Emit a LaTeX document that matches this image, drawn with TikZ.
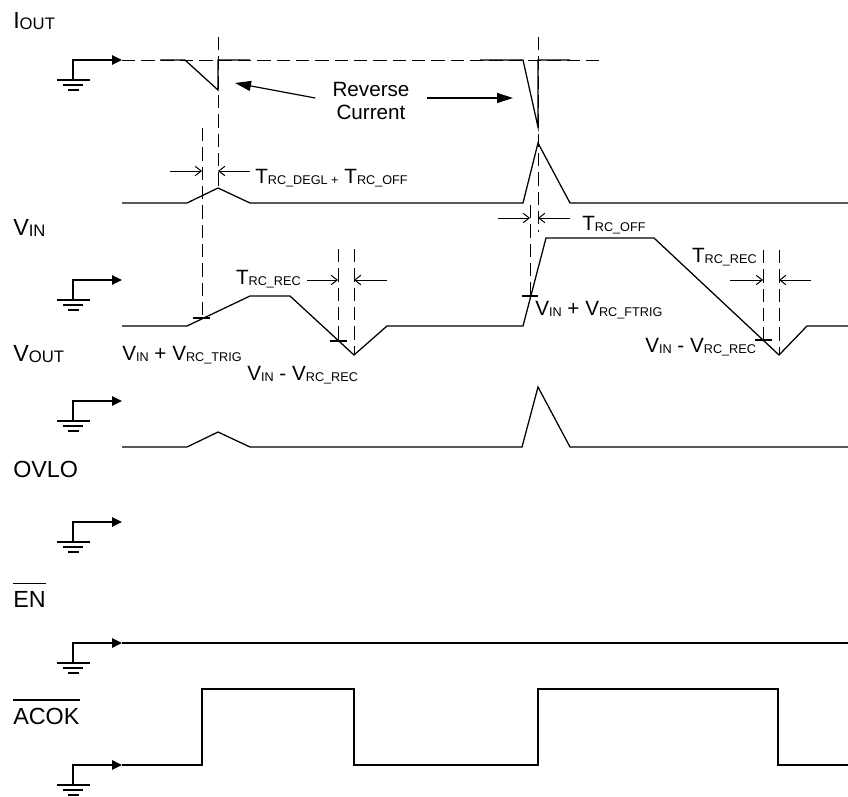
\documentclass[tikz,border=0pt]{standalone}
\usepackage{fontspec}
\setmainfont{Liberation Sans}
\usetikzlibrary{arrows.meta}

\newcommand{\rowsub}[2]{#1{\fontsize{12.5}{12.5}\selectfont\raisebox{-0.8pt}{#2}}}
\newcommand{\annsub}[2]{#1{\fontsize{9.5}{9.5}\selectfont\raisebox{-0.8pt}{#2}}}

\begin{document}
\begin{tikzpicture}[
  x=0.75pt, y=-0.75pt,
  trace/.style={line width=0.95pt, line join=miter},
  gnd/.style={line width=1.4pt},
  gndarrow/.style={line width=1.4pt, -{Triangle[length=7.5pt,width=7pt]}},
  guide/.style={line width=0.75pt, dash pattern=on 10pt off 4.5pt},
  dim/.style={line width=0.75pt, -{Straight Barb[length=4.5pt,width=7pt]}},
  callout/.style={line width=0.9pt, -{Triangle[length=12pt,width=7.5pt]}},
  tick/.style={line width=0.9pt},
  siglabel/.style={anchor=base west, inner sep=0pt, font=\fontsize{17.5}{17.5}\selectfont},
  note/.style={inner sep=0pt, font=\fontsize{15.5}{17.25}\selectfont},
  overbar/.style={line width=1.1pt}
]
\useasboundingbox (0,0) rectangle (848,796);

\def\gx{73}
\def\tx{122}

% Signal names.
\node[siglabel] (iout) at (13,28) {\rowsub{I}{OUT}};
\node[siglabel] (vin) at (13,235) {\rowsub{V}{IN}};
\node[siglabel] (vout) at (13,361) {\rowsub{V}{OUT}};
\node[siglabel] (ovlo) at (13,477) {OVLO};
\node[siglabel] (en) at (13,607) {EN};
\node[siglabel] (acok) at (13,724) {ACOK};
\draw[overbar] ([yshift=5.5pt]en.north west) -- ([yshift=5.5pt]en.north east);
\draw[overbar] ([yshift=5.5pt]acok.north west) -- ([yshift=5.5pt]acok.north east);

% Ground references.
\foreach \gy in {60,280,401,522,643,765}{
  \draw[gndarrow] (\gx,\gy+20) -- (\gx,\gy) -- (\tx,\gy);
  \draw[gnd] (\gx-16,\gy+20) -- (\gx+17,\gy+20);
  \draw[gnd] (\gx-10,\gy+25) -- (\gx+10,\gy+25);
  \draw[gnd] (\gx-5,\gy+30) -- (\gx+6,\gy+30);
}

% Output current with reverse-current dips.
\draw[guide] (\tx,60) -- (603,60);
\draw[trace] (160,60) -- (185,60) -- (218,90) -- (218,60) -- (250,60);
\draw[trace] (480,60) -- (523,60) -- (538,127) -- (538,60) -- (570,60);

\node[note, align=center, inner xsep=12.75pt] (rc) at (371,101) {Reverse\\Current};
\coordinate (dipA) at (235,83);
\coordinate (dipB) at (513,98);
\draw[callout] ([yshift=2.25pt]rc.west) -- (dipA);
\draw[callout] ([yshift=2.25pt]rc.east) -- (dipB);

\draw[trace] (\tx,203) -- (187,203) -- (218,188) -- (250,203) -- (523,203)
  -- (538,143) -- (570,203) -- (848,203);

% Timing guides.
\draw[guide] (218,37) -- (218,188);
\draw[guide] (202,128) -- (202,318);
\draw[guide] (538,37) -- (538,232);
\draw[guide] (530,205) -- (530,296);
\draw[guide] (338,249) -- (338,341);
\draw[guide] (354,249) -- (354,355);
\draw[guide] (763,250) -- (763,340);
\draw[guide] (779,250) -- (779,355);

\draw[dim] (170,171) -- (202,171);
\draw[dim] (250,171) -- (218,171);
\node[note, anchor=base west] (tdegl) at (255,183)
  {\annsub{T}{RC\_DEGL +} \annsub{T}{RC\_OFF}};

\draw[dim] (498,218) -- (530,218);
\draw[dim] (570,218) -- (538,218);
\node[note, anchor=base west] (toff) at (582,230) {\annsub{T}{RC\_OFF}};

\draw[dim] (307,280) -- (338,280);
\draw[dim] (387,280) -- (354,280);
\node[note, anchor=base east] (trecA) at (301,284) {\annsub{T}{RC\_REC}};

\draw[dim] (730,280) -- (763,280);
\draw[dim] (811,280) -- (779,280);
\node[note, anchor=base east] (trecB) at (757,262) {\annsub{T}{RC\_REC}};

% Input voltage.
\draw[trace] (\tx,326) -- (187,326) -- (250,296) -- (290,296) -- (354,355)
  -- (387,326) -- (523,326) -- (546,238) -- (654,238) -- (779,355)
  -- (807,326) -- (848,326);
\draw[tick] (193,318) -- (210,318);
\draw[tick] (330,341) -- (347,341);
\draw[tick] (522,296) -- (538,296);
\draw[tick] (755,340) -- (772,340);

\node[note, anchor=base west] (trig) at (122,360)
  {\annsub{V}{IN} + \annsub{V}{RC\_TRIG}};
\node[note, anchor=base west] (recA) at (247,380)
  {\annsub{V}{IN} - \annsub{V}{RC\_REC}};
\node[note, anchor=base west] (ftrig) at (535,315)
  {\annsub{V}{IN} + \annsub{V}{RC\_FTRIG}};
\node[note, anchor=base west] (recB) at (645,352)
  {\annsub{V}{IN} - \annsub{V}{RC\_REC}};

% Output voltage.
\draw[trace] (\tx,447) -- (187,447) -- (218,432) -- (250,447) -- (522,447)
  -- (538,387) -- (570,447) -- (848,447);

% Enable and ACOK.
\draw[trace] (\tx,643) -- (848,643);
\draw[trace] (\tx,765) -- (202,765) -- (202,689) -- (354,689) -- (354,765)
  -- (538,765) -- (538,689) -- (778,689) -- (778,765) -- (848,765);

\end{tikzpicture}
\end{document}
